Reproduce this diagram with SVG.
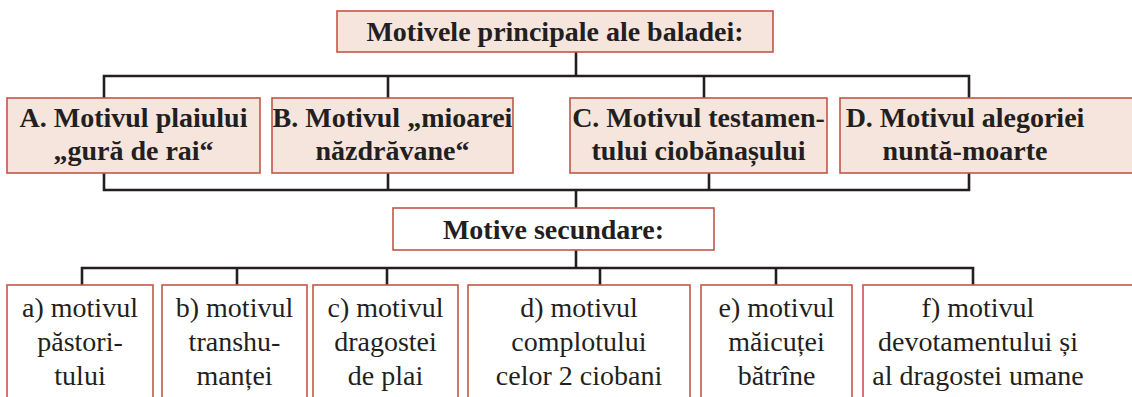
<svg xmlns="http://www.w3.org/2000/svg" width="1132" height="397" viewBox="0 0 1132 397" font-family="Liberation Serif">
<style>
.box{fill:#f5e5dd;stroke:#c5554a;stroke-width:1.6}
.wbox{fill:#ffffff;stroke:#c5554a;stroke-width:1.6}
.ln{fill:none;stroke:#231f20;stroke-width:2.6}
</style>
<rect width="1132" height="397" fill="#ffffff"/>
<g id="connectors">
<path class="ln" d="M576 52V76M104 98V76H969V98M388 76V98M704 76V98"/>
<path class="ln" d="M104 173V190H969V173M388 173V190M709 173V190M576 190V208"/>
<path class="ln" d="M576 250V268M82 285V268H973V285M237 268V285M387 268V285M600 268V285M776 268V285"/>
</g>
<g id="title">
<rect class="box" x="337" y="11" width="436" height="41"/>
<text font-family="Liberation Serif" font-weight="bold" font-size="28" fill="#231f20" x="555" y="41" text-anchor="middle">Motivele principale ale baladei:</text>
</g>
<g id="nodeA">
<rect class="box" x="7" y="98" width="253" height="75"/>
<text font-family="Liberation Serif" font-weight="bold" font-size="28" fill="#231f20" x="133.5" y="127" text-anchor="middle">A. Motivul plaiului</text>
<text font-family="Liberation Serif" font-weight="bold" font-size="28" fill="#231f20" x="133.5" y="160" text-anchor="middle">„gură de rai“</text>
</g>
<g id="nodeB">
<rect class="box" x="272" y="98" width="241" height="75"/>
<text font-family="Liberation Serif" font-weight="bold" font-size="28" fill="#231f20" x="392.5" y="127" text-anchor="middle">B. Motivul „mioarei</text>
<text font-family="Liberation Serif" font-weight="bold" font-size="28" fill="#231f20" x="392.5" y="160" text-anchor="middle">năzdrăvane“</text>
</g>
<g id="nodeC">
<rect class="box" x="570" y="98" width="257" height="75"/>
<text font-family="Liberation Serif" font-weight="bold" font-size="28" fill="#231f20" x="698.5" y="127" text-anchor="middle">C. Motivul testamen-</text>
<text font-family="Liberation Serif" font-weight="bold" font-size="28" fill="#231f20" x="698.5" y="160" text-anchor="middle">tului ciobănașului</text>
</g>
<g id="nodeD">
<rect class="box" x="840" y="98" width="300" height="75"/>
<text font-family="Liberation Serif" font-weight="bold" font-size="28" fill="#231f20" x="965" y="127" text-anchor="middle">D. Motivul alegoriei</text>
<text font-family="Liberation Serif" font-weight="bold" font-size="28" fill="#231f20" x="965" y="160" text-anchor="middle">nuntă-moarte</text>
</g>
<g id="secundare">
<rect class="wbox" x="393" y="208" width="321" height="42"/>
<text font-family="Liberation Serif" font-weight="bold" font-size="28" fill="#231f20" x="553.5" y="239" text-anchor="middle">Motive secundare:</text>
</g>
<g id="na">
<rect class="wbox" x="7" y="285" width="146" height="130"/>
<text font-family="Liberation Serif" font-size="28" fill="#231f20" x="80" y="317" text-anchor="middle">a) motivul</text>
<text font-family="Liberation Serif" font-size="28" fill="#231f20" x="80" y="351" text-anchor="middle">păstori-</text>
<text font-family="Liberation Serif" font-size="28" fill="#231f20" x="80" y="385" text-anchor="middle">tului</text>
</g>
<g id="nb">
<rect class="wbox" x="162" y="285" width="145" height="130"/>
<text font-family="Liberation Serif" font-size="28" fill="#231f20" x="234.5" y="317" text-anchor="middle">b) motivul</text>
<text font-family="Liberation Serif" font-size="28" fill="#231f20" x="234.5" y="351" text-anchor="middle">transhu-</text>
<text font-family="Liberation Serif" font-size="28" fill="#231f20" x="234.5" y="385" text-anchor="middle">manței</text>
</g>
<g id="nc">
<rect class="wbox" x="313" y="285" width="145" height="130"/>
<text font-family="Liberation Serif" font-size="28" fill="#231f20" x="385.5" y="317" text-anchor="middle">c) motivul</text>
<text font-family="Liberation Serif" font-size="28" fill="#231f20" x="385.5" y="351" text-anchor="middle">dragostei</text>
<text font-family="Liberation Serif" font-size="28" fill="#231f20" x="385.5" y="385" text-anchor="middle">de plai</text>
</g>
<g id="nd">
<rect class="wbox" x="468" y="285" width="222" height="130"/>
<text font-family="Liberation Serif" font-size="28" fill="#231f20" x="579" y="317" text-anchor="middle">d) motivul</text>
<text font-family="Liberation Serif" font-size="28" fill="#231f20" x="579" y="351" text-anchor="middle">complotului</text>
<text font-family="Liberation Serif" font-size="28" fill="#231f20" x="579" y="385" text-anchor="middle">celor 2 ciobani</text>
</g>
<g id="ne">
<rect class="wbox" x="701" y="285" width="151" height="130"/>
<text font-family="Liberation Serif" font-size="28" fill="#231f20" x="776.5" y="317" text-anchor="middle">e) motivul</text>
<text font-family="Liberation Serif" font-size="28" fill="#231f20" x="776.5" y="351" text-anchor="middle">măicuței</text>
<text font-family="Liberation Serif" font-size="28" fill="#231f20" x="776.5" y="385" text-anchor="middle">bătrîne</text>
</g>
<g id="nf">
<rect class="wbox" x="863" y="285" width="280" height="130"/>
<text font-family="Liberation Serif" font-size="28" fill="#231f20" x="978" y="317" text-anchor="middle">f) motivul</text>
<text font-family="Liberation Serif" font-size="28" fill="#231f20" x="978" y="351" text-anchor="middle">devotamentului și</text>
<text font-family="Liberation Serif" font-size="28" fill="#231f20" x="978" y="385" text-anchor="middle">al dragostei umane</text>
</g>
</svg>
